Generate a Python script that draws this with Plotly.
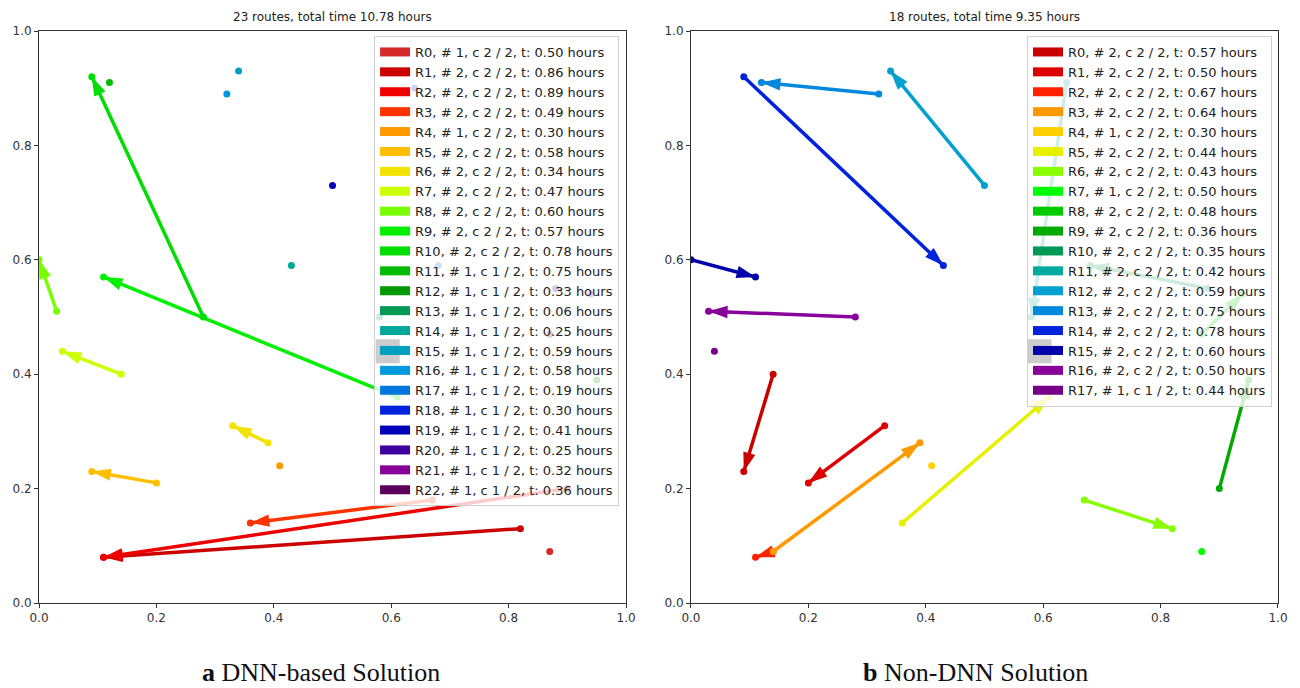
import plotly.graph_objects as go

FONT = "DejaVu Sans"
SERIF = "Liberation Serif"

# ---------------- Left: DNN-based solution ----------------
left_title = "23 routes, total time 10.78 hours"
left_n = [1, 2, 2, 2, 1, 2, 2, 2, 2, 2, 2, 1, 1, 1, 1, 1, 1, 1, 1, 1, 1, 1, 1]
left_c = [2, 2, 2, 2, 2, 2, 2, 2, 2, 2, 2, 1, 1, 1, 1, 1, 1, 1, 1, 1, 1, 1, 1]
left_t = [0.50, 0.86, 0.89, 0.49, 0.30, 0.58, 0.34, 0.47, 0.60, 0.57, 0.78, 0.75,
          0.33, 0.06, 0.25, 0.59, 0.58, 0.19, 0.30, 0.41, 0.25, 0.32, 0.36]
left_colors = ["#d42a2a", "#cc0000", "#ee0000", "#ff3300", "#ff9900", "#ffbf00",
               "#f2e200", "#ccff00", "#77ff00", "#00f000", "#00dd00", "#00bb00",
               "#009a00", "#009955", "#00a89a", "#00a0c0", "#0099dd", "#0077dd",
               "#0022dd", "#0000bb", "#4000a0", "#880099", "#5c005c"]
left_x = [[0.87], [0.82, 0.11], [0.90, 0.11], [0.67, 0.36], [0.41], [0.20, 0.09],
          [0.39, 0.33], [0.14, 0.04], [0.03, 0.00], [0.61, 0.11], [0.28, 0.09],
          [0.12], [0.95], [0.58], [0.43], [0.34], [0.32], [0.68], [0.64], [0.50],
          [0.88], [0.94], [0.87]]
left_y = [[0.09], [0.13, 0.08], [0.20, 0.08], [0.18, 0.14], [0.24], [0.21, 0.23],
          [0.28, 0.31], [0.40, 0.44], [0.51, 0.60], [0.36, 0.57], [0.50, 0.92],
          [0.91], [0.39], [0.50], [0.59], [0.93], [0.89], [0.59], [0.90], [0.73],
          [0.55], [0.54], [0.47]]

# ---------------- Right: Non-DNN solution ----------------
right_title = "18 routes, total time 9.35 hours"
right_n = [2, 2, 2, 2, 1, 2, 2, 1, 2, 2, 2, 2, 2, 2, 2, 2, 2, 1]
right_c = [2, 2, 2, 2, 2, 2, 2, 2, 2, 2, 2, 2, 2, 2, 2, 2, 2, 1]
right_t = [0.57, 0.50, 0.67, 0.64, 0.30, 0.44, 0.43, 0.50, 0.48, 0.36, 0.35, 0.42,
           0.59, 0.75, 0.78, 0.60, 0.50, 0.44]
right_colors = ["#c80000", "#dd0000", "#ff2200", "#ff9900", "#ffd000", "#e6f000",
                "#88ff00", "#00ff00", "#00cc00", "#00aa00", "#009955", "#00aaa0",
                "#00a0d0", "#0088dd", "#0022dd", "#0000aa", "#880099", "#770088"]
right_x = [[0.14, 0.09], [0.33, 0.20], [0.14, 0.11], [0.14, 0.39], [0.41],
           [0.36, 0.61], [0.67, 0.82], [0.87], [0.87, 0.94], [0.90, 0.95],
           [0.88, 0.68], [0.64, 0.58], [0.50, 0.34], [0.32, 0.12], [0.09, 0.43],
           [0.00, 0.11], [0.28, 0.03], [0.04]]
right_y = [[0.40, 0.23], [0.31, 0.21], [0.09, 0.08], [0.09, 0.28], [0.24],
           [0.14, 0.36], [0.18, 0.13], [0.09], [0.47, 0.54], [0.20, 0.39],
           [0.55, 0.59], [0.91, 0.50], [0.73, 0.93], [0.89, 0.91], [0.92, 0.59],
           [0.60, 0.57], [0.50, 0.51], [0.44]]

depot_x = [0.594]
depot_y = [0.44]

captions = ["<b>a</b> DNN-based Solution", "<b>b</b> Non-DNN Solution"]
tick_vals = [0.0, 0.2, 0.4, 0.6, 0.8, 1.0]

fig = go.Figure()


def add_panel(xs, ys, colors, ns, cs, ts, xa, ya, legend_name):
    # depot (drawn first, under everything)
    fig.add_trace(go.Scatter(x=depot_x, y=depot_y, xaxis=xa, yaxis=ya, mode="markers",
                             marker=dict(symbol="square", size=24, color="black"),
                             showlegend=False, hoverinfo="skip"))
    for i, (rx, ry, col) in enumerate(zip(xs, ys, colors)):
        if len(rx) > 1:
            fig.add_trace(go.Scatter(
                x=rx, y=ry, xaxis=xa, yaxis=ya, mode="lines",
                line=dict(color=col, width=3.5),
                showlegend=False, hoverinfo="skip"))
            fig.add_trace(go.Scatter(
                x=rx, y=ry, xaxis=xa, yaxis=ya, mode="markers",
                marker=dict(symbol=["circle"] * (len(rx) - 1) + ["arrow"],
                            size=[0] * (len(rx) - 1) + [20], opacity=1,
                            angleref="previous", color=col, line=dict(width=0)),
                showlegend=False, hoverinfo="skip"))
        fig.add_trace(go.Scatter(
            x=rx, y=ry, xaxis=xa, yaxis=ya, mode="markers",
            marker=dict(symbol="circle", size=7, color=col, opacity=1,
                        line=dict(width=0)),
            showlegend=False, hoverinfo="skip"))
    # legend-only patches
    for i, col in enumerate(colors):
        label = f"R{i}, # {ns[i]}, c {cs[i]} / 2, t: {ts[i]:.2f} hours"
        fig.add_trace(go.Scatter(
            x=[None], y=[None], xaxis=xa, yaxis=ya, mode="lines",
            line=dict(color=col, width=9), name=label, legend=legend_name,
            showlegend=True))


add_panel(left_x, left_y, left_colors, left_n, left_c, left_t, "x", "y", "legend")
add_panel(right_x, right_y, right_colors, right_n, right_c, right_t, "x2", "y2", "legend2")

W, H = 1300, 688
ml, mr, mt, mb = 39, 20, 31, 85
pw = W - ml - mr
d1 = [0, (627 - 39) / pw]
d2 = [(692 - 39) / pw, 1.0]

axis_common = dict(range=[0, 1], tickvals=tick_vals, tickformat=".1f",
                   ticks="outside", ticklen=4, tickcolor="#333", showline=True,
                   mirror=True, linecolor="#333", linewidth=1, showgrid=False,
                   zeroline=False, tickfont=dict(family=FONT, size=12, color="#333"),
                   fixedrange=True)

legend_common = dict(xanchor="right", yanchor="top",
                     bgcolor="rgba(255,255,255,0.8)", bordercolor="#d0d0d0",
                     borderwidth=1, font=dict(family=FONT, size=13, color="#222"),
                     tracegroupgap=0)

fig.update_layout(
    width=W, height=H, margin=dict(l=ml, r=mr, t=mt, b=mb),
    paper_bgcolor="white", plot_bgcolor="white",
    xaxis=dict(domain=d1, anchor="y", **axis_common),
    yaxis=dict(domain=[0, 1], anchor="x", **axis_common),
    xaxis2=dict(domain=d2, anchor="y2", **axis_common),
    yaxis2=dict(domain=[0, 1], anchor="x2", **axis_common),
    legend=dict(x=(620 - 39) / pw, y=(603 - 36) / 572, **legend_common),
    legend2=dict(x=(1274 - 39) / pw, y=(603 - 36) / 572, **legend_common),
)

titles = [left_title, right_title]
caption_x = [(321 - ml) / pw, (977 - ml) / pw]
for k, dom in enumerate([d1, d2]):
    cx = (dom[0] + dom[1]) / 2
    fig.add_annotation(x=cx, y=1, xref="paper", yref="paper", text=titles[k],
                       showarrow=False, xanchor="center", yanchor="bottom", yshift=5,
                       font=dict(family=FONT, size=12, color="#222"))
    fig.add_annotation(x=caption_x[k], y=0, xref="paper",
                       yref="paper", text=captions[k],
                       showarrow=False, xanchor="center", yanchor="middle", yshift=-69,
                       font=dict(family=SERIF, size=26, color="#111"))

fig.write_html("out.html", post_script="document.body.style.margin='0px';",
               config={"displayModeBar": False})
